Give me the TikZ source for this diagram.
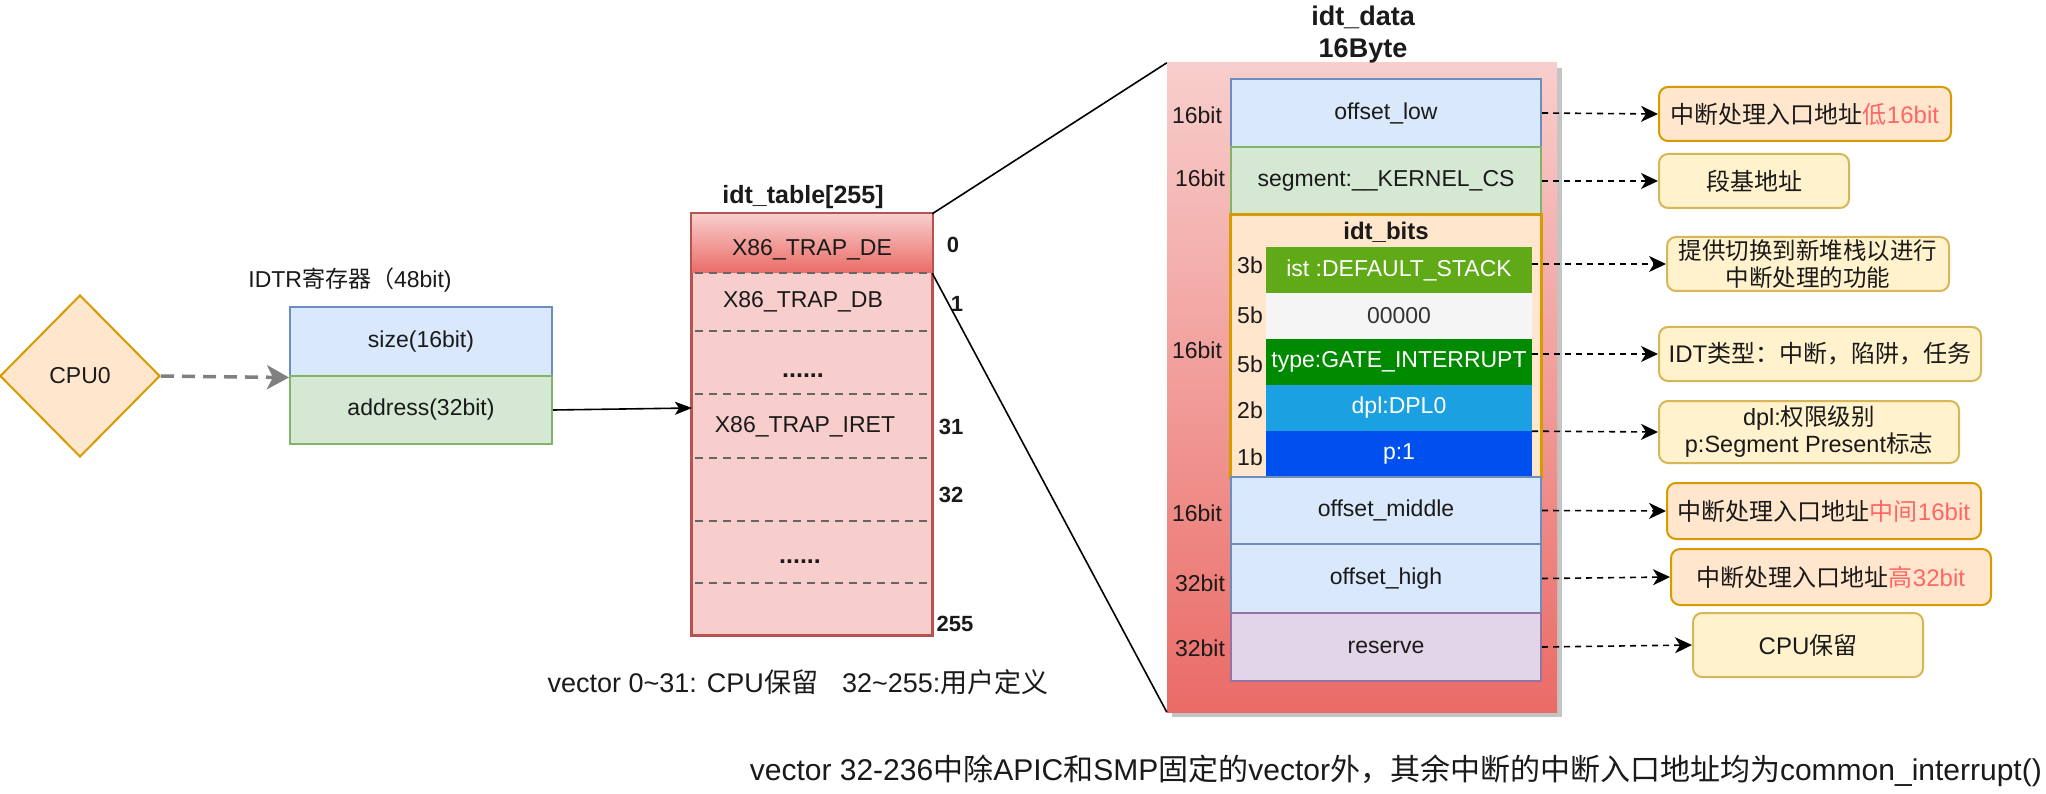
\documentclass[tikz,border=0pt]{standalone}
\usepackage{fontspec}
\setmainfont{Liberation Sans}
\newfontfamily\cjk{Noto Sans CJK SC}
\usetikzlibrary{shapes.geometric,arrows.meta}
\definecolor{orangeF}{HTML}{FFE6CC}\definecolor{orangeD}{HTML}{D79B00}
\definecolor{yellowF}{HTML}{FFF2CC}\definecolor{yellowD}{HTML}{D6B656}
\definecolor{blueF}{HTML}{DAE8FC}\definecolor{blueD}{HTML}{6C8EBF}
\definecolor{greenF}{HTML}{D5E8D4}\definecolor{greenD}{HTML}{82B366}
\definecolor{purpF}{HTML}{E1D5E7}\definecolor{purpD}{HTML}{9673A6}
\definecolor{redF}{HTML}{F8CECC}\definecolor{redD}{HTML}{B85450}\definecolor{redG}{HTML}{EA6B66}
\definecolor{istC}{HTML}{60A917}\definecolor{zeroC}{HTML}{F5F5F5}\definecolor{typeC}{HTML}{008A00}
\definecolor{dplC}{HTML}{1BA1E2}\definecolor{pC}{HTML}{0050EF}
\definecolor{txtred}{HTML}{FF6666}\definecolor{arrgray}{HTML}{808080}\definecolor{sepgray}{HTML}{666666}
\definecolor{shadowC}{HTML}{C4C4C4}\definecolor{ink}{HTML}{1A1A1A}\definecolor{zeroT}{HTML}{333333}
\begin{document}
\begin{tikzpicture}[x=1pt,y=-1pt,
  every node/.style={font=\fontsize{23}{28}\selectfont, text=ink},
  blk/.style={draw, line width=2pt, minimum width=310pt, inner sep=0pt},
  bar/.style={minimum width=266pt, minimum height=46pt, inner sep=0pt, text=white},
  call/.style={rounded corners=9pt, line width=2pt, inner sep=0pt, align=center, font=\fontsize{24}{28}\selectfont},
  lbl/.style={inner sep=0pt},
  bnum/.style={inner sep=0pt, font=\fontsize{22}{26}\selectfont\bfseries},
  carr/.style={-{Stealth[length=17pt,width=16pt,inset=5pt]}, dash pattern=on 6pt off 5pt, line width=1.6pt, black},
  sep/.style={sepgray, dash pattern=on 8pt off 6pt, line width=1.6pt},
]
\useasboundingbox (0,0) rectangle (2046,794);
\fill[white] (0,0) rectangle (2046,794);

% CPU and IDTR
\node[diamond, draw=orangeD, fill=orangeF, line width=2pt, minimum width=160pt, minimum height=162pt, inner sep=0pt] (cpu) at (80,376) {CPU0};
\node[lbl] (idtrl) at (350,280) {IDTR{\cjk 寄存器（}48bit)};
\node[blk, draw=blueD, fill=blueF, minimum width=262pt, minimum height=69pt] (size) at (421,342) {size(16bit)};
\node[blk, draw=greenD, fill=greenF, minimum width=262pt, minimum height=68pt] (addr) at (421,410) {address(32bit)};
\draw[arrgray, line width=3.5pt, dash pattern=on 13pt off 8pt, -{Stealth[length=22pt,width=24pt,inset=6pt]}] (cpu.east) -- (size.south west);

% idt_table
\node[lbl, font=\fontsize{25}{30}\selectfont\bfseries] (tbltitle) at (803,197) {idt\_table[255]};
\node[draw=redD, fill=redF, line width=2pt, minimum width=240pt, minimum height=421pt, inner sep=0pt] (tbl) at (812,424.5) {};
\node[top color=redF, bottom color=redG, minimum width=240pt, minimum height=59pt, inner sep=0pt] (hdr) at (812,243.5) {};
\draw[redD, line width=2pt] (tbl.north west) rectangle (tbl.south east);
\foreach \yy in {273,331,394,458,521,583} \draw[sep] (695,\yy) -- (930,\yy);
\node[lbl] (r0) at (812,250) {X86\_TRAP\_DE};
\node[lbl] (r1) at (803,302) {X86\_TRAP\_DB};
\node[lbl, font=\fontsize{25}{30}\selectfont\bfseries] (r2) at (803,376) {......};
\node[lbl] (r3) at (805,427) {X86\_TRAP\_IRET};
\node[lbl, font=\fontsize{25}{30}\selectfont\bfseries] (r5) at (800,562) {......};
\node[bnum] (n0) at (953,245) {0};
\node[bnum] (n1) at (957,304) {1};
\node[bnum] (n31) at (951,427) {31};
\node[bnum] (n32) at (951,495) {32};
\node[bnum] (n255) at (955,624) {255};
\coordinate (tin) at (692,408);
\draw[line width=1.6pt, -{Stealth[length=17pt,width=13pt,inset=4pt]}] (addr.east) -- (tin);

% idt_data container
\fill[shadowC] (1172,68) rectangle (1562,717);
\node[top color=redF, bottom color=redG, minimum width=390pt, minimum height=649pt, inner sep=0pt] (dat) at (1362,387.5) {};
\node[lbl, align=center, font=\fontsize{27}{32}\selectfont\bfseries] (dattitle) at (1363,35) {idt\_data\\16Byte};
\draw[line width=1.6pt] (hdr.north east) -- (dat.north west);
\draw[line width=1.6pt] (hdr.south east) -- (dat.south west);

\node[blk, draw=blueD, fill=blueF, minimum height=68pt] (olow) at (1386,113) {offset\_low};
\node[blk, draw=greenD, fill=greenF, minimum height=68pt] (seg) at (1386,181) {segment:\_\_KERNEL\_CS};
\node[blk, draw=orangeD, fill=orangeF, minimum height=262pt] (bits) at (1386,346) {};
\node[lbl, font=\fontsize{24}{28}\selectfont\bfseries] (bitst) at (1386,232) {idt\_bits};
\node[bar, fill=istC] (ist) at (1399,270) {ist :DEFAULT\_STACK};
\node[bar, fill=zeroC, text=zeroT] (zero) at (1399,316) {00000};
\node[bar, fill=typeC] (type) at (1399,362) {type:GATE\_INTERRUPT};
\node[bar, fill=dplC] (dpl) at (1399,408) {dpl:DPL0};
\node[bar, fill=pC] (pbit) at (1399,454) {p:1};
\draw[orangeD, line width=2pt] (bits.north west) rectangle (bits.south east);
\node[blk, draw=blueD, fill=blueF, minimum height=67pt] (omid) at (1386,510.5) {offset\_middle};
\node[blk, draw=blueD, fill=blueF, minimum height=69pt] (ohigh) at (1386,578.5) {offset\_high};
\node[blk, draw=purpD, fill=purpF, minimum height=68pt] (rsv) at (1386,647) {reserve};

\node[lbl] (b1) at (1250,265) {3b};
\node[lbl] (b2) at (1250,315) {5b};
\node[lbl] (b3) at (1250,364) {5b};
\node[lbl] (b4) at (1250,410) {2b};
\node[lbl] (b5) at (1250,457) {1b};
\node[lbl] (l1) at (1197,115) {16bit};
\node[lbl] (l2) at (1200,178) {16bit};
\node[lbl] (l3) at (1197,350) {16bit};
\node[lbl] (l4) at (1197,513) {16bit};
\node[lbl] (l5) at (1200,583) {32bit};
\node[lbl] (l6) at (1200,648) {32bit};

% callouts
\node[call, draw=orangeD, fill=orangeF, minimum width=292pt, minimum height=54pt] (c1) at (1805,114) {{\cjk 中断处理入口地址}\textcolor{txtred}{{\cjk 低}16bit}};
\node[call, draw=yellowD, fill=yellowF, minimum width=190pt, minimum height=54pt] (c2) at (1754,181) {{\cjk 段基地址}};
\node[call, draw=yellowD, fill=yellowF, minimum width=282pt, minimum height=54pt, font=\fontsize{23.5}{27}\selectfont] (c3) at (1808,264) {{\cjk 提供切换到新堆栈以进行}\\{\cjk 中断处理的功能}};
\node[call, draw=yellowD, fill=yellowF, minimum width=322pt, minimum height=54pt] (c4) at (1820,354) {IDT{\cjk 类型：中断，陷阱，任务}};
\node[call, draw=yellowD, fill=yellowF, minimum width=300pt, minimum height=62pt, font=\fontsize{23.5}{27}\selectfont] (c5) at (1809,432) {dpl:{\cjk 权限级别}\\p:Segment Present{\cjk 标志}};
\node[call, draw=orangeD, fill=orangeF, minimum width=314pt, minimum height=56pt] (c6) at (1824,511) {{\cjk 中断处理入口地址}\textcolor{txtred}{{\cjk 中间}16bit}};
\node[call, draw=orangeD, fill=orangeF, minimum width=320pt, minimum height=56pt] (c7) at (1831,577) {{\cjk 中断处理入口地址}\textcolor{txtred}{{\cjk 高}32bit}};
\node[call, draw=yellowD, fill=yellowF, minimum width=230pt, minimum height=64pt] (c8) at (1808,645) {CPU{\cjk 保留}};

\draw[carr] (olow.east) -- (c1.west);
\draw[carr] (seg.east) -- (c2.west);
\draw[carr] (ist.east |- c3.west) -- (c3.west);
\draw[carr] (type.east |- c4.west) -- (c4.west);
\draw[carr] (dpl.south east) -- (c5.west);
\draw[carr] (omid.east) -- (c6.west);
\draw[carr] (ohigh.east) -- (c7.west);
\draw[carr] (rsv.east) -- (c8.west);

% bottom notes
\node[lbl, font=\fontsize{27}{32}\selectfont] (note1) at (798,682) {vector 0\textasciitilde31: CPU{\cjk 保留}\hspace{24pt}32\textasciitilde255:{\cjk 用户定义}};
\node[lbl, anchor=east, font=\fontsize{30}{34}\selectfont] (note2) at (2042,771) {vector 32-236{\cjk 中除}APIC{\cjk 和}SMP{\cjk 固定的}vector{\cjk 外，其余中断的中断入口地址均为}common\_interrupt()};
\end{tikzpicture}
\end{document}
